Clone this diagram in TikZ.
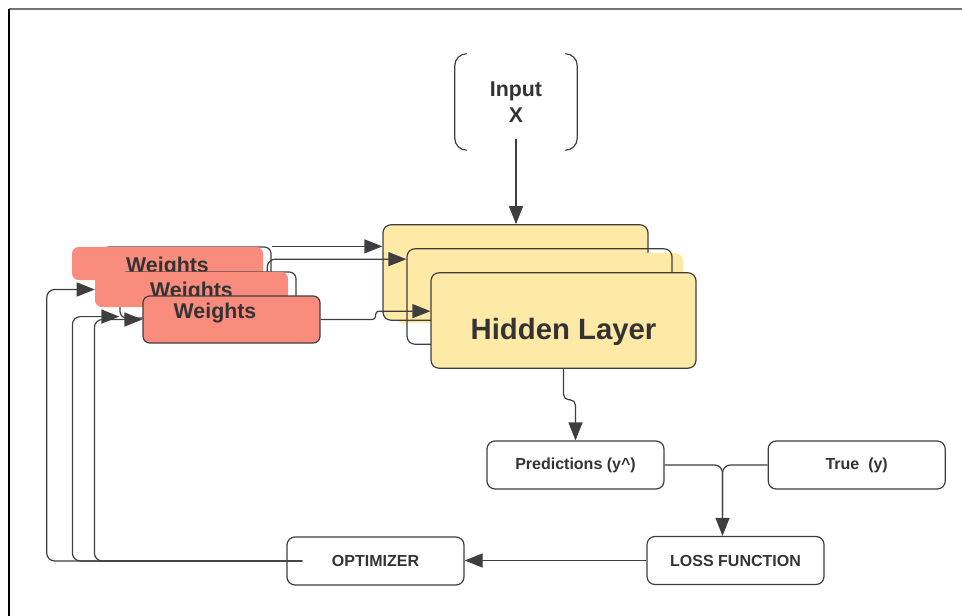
\documentclass[tikz,border=0pt]{standalone}
\usepackage{fontspec}
\setmainfont{Liberation Sans}
\usetikzlibrary{arrows.meta,calc,positioning}

\definecolor{ink}{RGB}{51,51,51}
\definecolor{linegray}{RGB}{62,62,62}
\definecolor{salmon}{RGB}{250,140,126}
\definecolor{butter}{RGB}{255,233,166}

\begin{document}
\begin{tikzpicture}[
  x = 0.75pt, y = -0.75pt,
  every node/.style = {text=ink, font=\bfseries},
  box/.style     = {rectangle, draw=linegray, line width=0.9pt, rounded corners=6pt, minimum width=132.75pt, minimum height=36pt, inner sep=0pt, font=\bfseries\fontsize{12}{14}\selectfont},
  layer/.style   = {rectangle, draw=linegray, line width=0.9pt, fill=butter, rounded corners=6pt, minimum width=198.75pt, minimum height=71.6pt, inner sep=0pt, font=\bfseries\fontsize{22}{26}\selectfont},
  weights/.style = {rectangle, fill=salmon, rounded corners=5pt, inner sep=0pt, font=\bfseries\fontsize{16}{19}\selectfont},
  rim/.style     = {rectangle, draw=linegray, line width=0.9pt, rounded corners=5pt, inner sep=0pt},
  wire/.style    = {draw=linegray, line width=0.9pt, rounded corners=6pt},
  flow/.style    = {wire, -{Triangle[length=13.5pt,width=10.5pt]}},
  ]
  \useasboundingbox (0,0) rectangle (962,616);
  % page frame
  \draw[line width=1.1pt, black!55] (9,9) -- (962,9);
  \draw[line width=1.1pt, black] (9,9) -- (9,616);

  % input
  \node[minimum width=91.5pt, minimum height=72pt, align=center, font=\bfseries\fontsize{16}{19.5}\selectfont] (inp) at (516,102) {Input\\X};
  \draw[wire, rounded corners=9pt] ($(inp.north west)+(12,0)$) -- (inp.north west) -- (inp.south west) -- ($(inp.south west)+(12,0)$);
  \draw[wire, rounded corners=9pt] ($(inp.north east)+(-12,0)$) -- (inp.north east) -- (inp.south east) -- ($(inp.south east)+(-12,0)$);

  % hidden layers, stacked
  \fill[butter, rounded corners=6pt] (395,250) rectangle (440,323);
  \node[layer] (h1) at (515.5,272.5) {};
  \fill[butter, rounded corners=6pt] (418,253) rectangle (683,300);
  \node[layer, fill=none] (h2) at ($(h1)+(24,24)$) {};
  \node[layer] (h3) at ($(h2)+(24,24)$) {\raisebox{-8.5pt}[\height][\depth]{Hidden Layer}};

  % weights, stacked
  \node[rim, minimum width=126.75pt, minimum height=26.25pt] (w1r) at (186.5,264.5) {};
  \node[weights, minimum width=143.25pt, minimum height=24.75pt] (w1) at (167.5,263.5) {\raisebox{-3pt}[\height][\depth]{Weights}};
  \node[rim, minimum width=132pt, minimum height=34.5pt] (w2r) at (208,295) {};
  \node[weights, minimum width=144.75pt, minimum height=26.25pt] (w2) at (191.5,289.5) {\raisebox{-2pt}[\height][\depth]{Weights}};
  \node[weights, rim, minimum width=132.75pt, minimum height=35.25pt] (w3) at (231.5,319.5) {\makebox[0pt]{\raisebox{5pt}[\height][\depth]{Weights}\hspace{24.75pt}}};

  % outputs and loss
  \node[box] (pred) at (575.5,465) {Predictions (y\textasciicircum)};
  \node[box, right=77.25pt of pred] (true) {True~~(y)};
  \node[box] (loss) at (735.5,560.5) {LOSS FUNCTION};
  \node[box] (opt) at (375.5,561) {OPTIMIZER};

  % forward pass
  \draw[flow] ($(inp.south)+(0,-11)$) -- (inp.south |- h1.north);
  \draw[flow] (w1r.north east) -- (w1r.north east -| h1.west);
  \draw[flow] ($(w2.north east)+(-21,0)$) |- ($(h2.north west)+(0,11)$);
  \draw[flow, rounded corners=2.5pt] (w3.east) -- ++(55,0) |- ($(h3.north west)+(0,39)$);
  \draw[flow, rounded corners=4pt] (h3.south) -- ++(0,31) -| (pred.north);

  % loss and update
  \draw[flow] (pred.east) -| ($(loss.north)+(-13,0)$);
  \draw[wire] (true.west) -| ($(loss.north)+(-13,-20)$);
  \draw[flow] (loss.west) -- (loss.west -| opt.east);
  \coordinate (back) at ($(opt.west)+(16,0)$);
  \draw[flow] (back) -| ($(w2.west)+(-48,0)$) -- (w2.west);
  \draw[flow] (back) -| ($(w2r.south west)+(-47,-2)$) -- ($(w2r.south west)+(0,-2)$);
  \draw[flow] (back) -| ($(w3.west)+(-48,0)$) -- (w3.west);
\end{tikzpicture}
\end{document}
